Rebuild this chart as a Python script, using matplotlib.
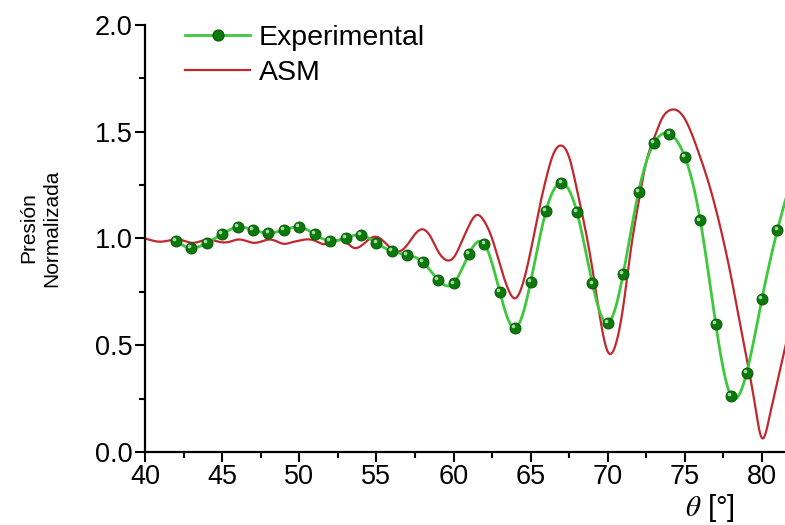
import numpy as np
import matplotlib
matplotlib.use("Agg")
import matplotlib.pyplot as plt
from matplotlib import transforms

# ---------------- data ----------------
exp_theta = [42, 43, 44, 45, 46, 47, 48, 49, 50, 51, 52, 53, 54, 55, 56, 57, 58, 59, 60,
             61, 62, 63, 64, 65, 66, 67, 68, 69, 70, 71, 72, 73, 74, 75, 76, 77, 78, 79,
             80, 81, 82]
exp_values = [0.988, 0.955, 0.979, 1.020, 1.054, 1.040, 1.026, 1.040, 1.054, 1.020,
              0.988, 1.002, 1.016, 0.979, 0.941, 0.923, 0.890, 0.806, 0.790, 0.927,
              0.974, 0.750, 0.580, 0.796, 1.130, 1.260, 1.124, 0.790, 0.604, 0.834,
              1.220, 1.447, 1.490, 1.382, 1.085, 0.600, 0.262, 0.370, 0.718, 1.040,
              1.300]

asm_theta = [40.0, 40.5, 41.0, 41.5, 42.0, 42.5, 43.0, 43.5, 44.0, 44.5, 45.0, 45.5,
             46.0, 46.5, 47.0, 47.5, 48.0, 48.5, 49.0, 49.5, 50.0, 50.5, 51.0, 51.5,
             52.0, 52.5, 53.0, 53.5, 54.0, 54.5, 55.0, 55.5, 56.0, 56.5, 57.0, 57.5,
             58.0, 58.5, 59.0, 59.5, 60.0, 60.5, 61.0, 61.5, 62.0, 62.5, 63.0, 63.5,
             64.0, 64.5, 65.0, 65.5, 66.0, 66.5, 67.0, 67.5, 68.0, 68.5, 69.0, 69.5,
             70.0, 70.5, 71.0, 71.5, 72.0, 72.5, 73.0, 73.5, 74.0, 74.5, 75.0, 75.5,
             76.0, 76.5, 77.0, 77.5, 78.0, 78.5, 79.0, 79.5, 80.0, 80.5, 81.0, 81.5,
             82.0]
asm_values = [1.000, 0.990, 0.985, 0.990, 0.995, 0.990, 0.980, 0.985, 0.995, 0.990,
              0.982, 0.985, 0.995, 0.990, 0.980, 0.985, 0.995, 0.988, 0.975, 0.982,
              0.990, 0.996, 0.990, 0.975, 0.978, 0.993, 0.985, 0.957, 0.965, 0.995,
              1.008, 0.985, 0.950, 0.940, 0.970, 1.020, 1.043, 1.010, 0.940, 0.900,
              0.910, 0.980, 1.060, 1.110, 1.080, 1.000, 0.880, 0.770, 0.720, 0.790,
              0.940, 1.120, 1.280, 1.400, 1.435, 1.380, 1.230, 1.060, 0.860, 0.630,
              0.470, 0.500, 0.680, 0.950, 1.170, 1.360, 1.470, 1.560, 1.600, 1.600,
              1.560, 1.480, 1.380, 1.270, 1.140, 0.990, 0.820, 0.630, 0.440, 0.240,
              0.065, 0.170, 0.330, 0.490, 0.650]

legend_labels = ["Experimental", "ASM"]
x_ticks = [40, 45, 50, 55, 60, 65, 70, 75, 80]
y_ticks = [0.0, 0.5, 1.0, 1.5, 2.0]


def natural_spline(x, y, n=20):
    """Smooth curve through the given points (natural cubic spline)."""
    x = np.asarray(x, float)
    y = np.asarray(y, float)
    k = len(x)
    h = np.diff(x)
    A = np.zeros((k, k))
    r = np.zeros(k)
    A[0, 0] = A[-1, -1] = 1.0
    for i in range(1, k - 1):
        A[i, i - 1] = h[i - 1]
        A[i, i] = 2 * (h[i - 1] + h[i])
        A[i, i + 1] = h[i]
        r[i] = 3 * ((y[i + 1] - y[i]) / h[i] - (y[i] - y[i - 1]) / h[i - 1])
    c = np.linalg.solve(A, r)
    xs, ys = [], []
    for i in range(k - 1):
        b = (y[i + 1] - y[i]) / h[i] - h[i] * (2 * c[i] + c[i + 1]) / 3
        d = (c[i + 1] - c[i]) / (3 * h[i])
        t = np.linspace(0, h[i], n, endpoint=(i == k - 2))
        xs.append(x[i] + t)
        ys.append(y[i] + b * t + c[i] * t ** 2 + d * t ** 3)
    return np.concatenate(xs), np.concatenate(ys)


plt.rcParams['font.family'] = ['Liberation Sans', 'DejaVu Sans']
plt.rcParams['mathtext.fontset'] = 'stix'

W, H = 785, 525
fig = plt.figure(figsize=(W / 100, H / 100), dpi=100)
ax = fig.add_axes([145 / W, 1 - 452 / H, 1 - 145 / W, (452 - 25) / H])

green_line = '#3dc83d'
green_dot = '#0b7a0b'
red = '#c0282e'

ex, ey = natural_spline(exp_theta, exp_values)
ax.plot(ex, ey, color=green_line, lw=2.0, zorder=3)
ax.plot(exp_theta, exp_values, ls='none', marker='o', ms=7.8,
        mfc=green_dot, mec='#0a5e0a', mew=0.8, zorder=4)
hl = transforms.offset_copy(ax.transData, fig=fig, x=-1.3, y=1.3, units='points')
ax.plot(exp_theta, exp_values, ls='none', marker='o', ms=2.6,
        mfc='#a8dba8', mec='none', transform=hl, zorder=5)

rx, ry = natural_spline(asm_theta, asm_values, n=10)
ax.plot(rx, ry, color=red, lw=1.6, zorder=2)

# legend proxies
h1, = ax.plot([], [], color=green_line, lw=2.0, marker='o', ms=7.8,
              mfc=green_dot, mec='#0a5e0a')
h2, = ax.plot([], [], color=red, lw=1.6)
leg = ax.legend([h1, h2], legend_labels, loc='upper left',
                bbox_to_anchor=(185 / W, 1 - 25 / H), bbox_transform=fig.transFigure,
                frameon=False, fontsize=20.5, handlelength=2.3, handletextpad=0.3,
                labelspacing=0.3, borderpad=0, borderaxespad=0)

ax.set_xlim(40, 40 + (W - 145) / (762 - 145) * 40)
ax.set_ylim(0, 2.0)
ax.set_xticks(x_ticks)
ax.set_yticks(y_ticks)
ax.set_xticks(np.arange(42.5, 82, 5), minor=True)
ax.set_yticks([0.25, 0.75, 1.25, 1.75], minor=True)
ax.set_xticklabels([str(t) for t in x_ticks])
ax.set_yticklabels([f"{t:.1f}" for t in y_ticks])
ax.tick_params(which='major', direction='out', length=7, width=1.5, labelsize=19.5,
               colors='black', pad=2)
ax.tick_params(which='minor', direction='out', length=4, width=1.5)
for s in ('top', 'right'):
    ax.spines[s].set_visible(False)
for s in ('left', 'bottom'):
    ax.spines[s].set_linewidth(1.6)

fig.text(40 / W, 1 - 228 / H, "Presión\nNormalizada", rotation=90, ha='center',
         va='center', multialignment='center', fontsize=15, linespacing=1.3)
fig.text(710 / W, 1 - 508 / H, r"$\theta$ [°]", ha='center', va='center', fontsize=21)

fig.savefig("out.png", dpi=100)
